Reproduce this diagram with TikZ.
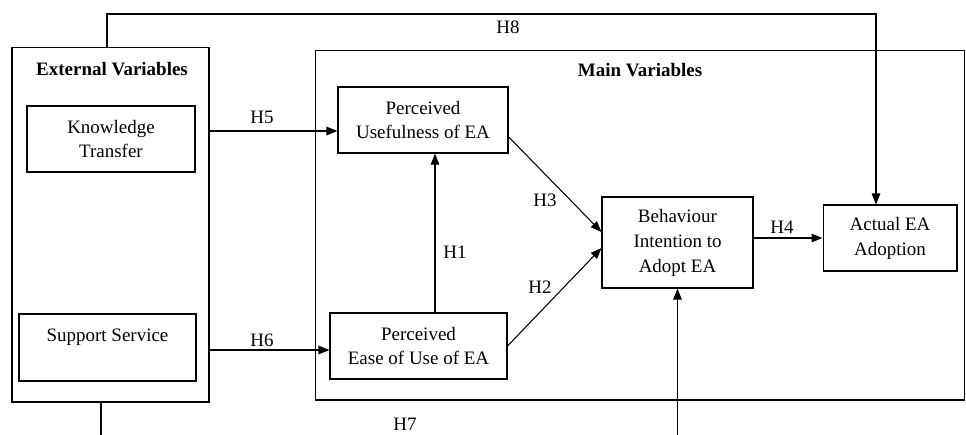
\documentclass[tikz,border=0pt]{standalone}
\usepackage{fontspec}
\setmainfont{Liberation Serif}
\usetikzlibrary{arrows.meta,calc}

\tikzset{
  varbox/.style={draw, line width=0.6pt, align=center, inner sep=0pt, font=\fontsize{10.8}{14.2}\selectfont},
  head/.style={font=\fontsize{10.8}{13}\selectfont\bfseries, inner sep=1pt},
  hyp/.style={font=\fontsize{10.8}{13}\selectfont, inner sep=1pt},
  arr/.style={line width=0.6pt, -{Triangle[length=0.22cm,width=0.17cm]}},
}

\begin{document}
\begin{tikzpicture}[x=0.02cm, y=-0.02cm]
		%%%%% START %%%%%
		\useasboundingbox (0,0) rectangle (966,434);
		\clip (0,0) rectangle (966,434);
		
		% outer boxes
		\node[varbox, minimum width=3.94cm, minimum height=7.1cm] (ext) at (110.5,224.5) {};
		\node[varbox, minimum width=13cm, minimum height=7cm] (main) at (640,225) {};
		\node[head] (exthead) at (112,69) {External Variables};
		\node[head] (mainhead) at (640,70) {Main Variables};
		
		% variables
		\node[varbox, minimum width=3.36cm, minimum height=1.32cm] (kt) at (111,139) {Knowledge\\Transfer};
		\node[varbox, minimum width=3.54cm, minimum height=1.34cm] (ss) at (107.5,347.5) {Support Service\\\phantom{S}};
		\node[varbox, minimum width=3.4cm, minimum height=1.32cm] (pu) at (423,120) {Perceived\\Usefulness of EA};
		\node[varbox, minimum width=3.54cm, minimum height=1.32cm] (peou) at (418.5,346) {Perceived\\Ease of Use of EA};
		\node[varbox, minimum width=3.02cm, minimum height=1.82cm] (bi) at (677.5,242.5) {Behaviour\\Intention to\\Adopt EA};
		\node[varbox, minimum width=2.68cm, minimum height=1.32cm] (ae) at (890,238) {Actual EA\\Adoption};
		
		% helper points
		\coordinate (h8l) at (107,0);
		\coordinate (h8) at (876,14);
		\coordinate (h5) at (0,131);
		\coordinate (h6) at (0,350);
		\coordinate (h1) at (435,0);
		\coordinate (h7l) at (101,470);
		\coordinate (h7r) at (677.5,470);
		
		% hypotheses
		\draw[arr] (ext.north -| h8l) |- (h8) -- (h8 |- ae.north);
		\draw[arr] (ext.east |- h5) -- (pu.west |- h5);
		\draw[arr] (ext.east |- h6) -- (peou.west |- h6);
		\draw[arr] (peou.north -| h1) -- (pu.south -| h1);
		\draw[arr] ($(pu.south east)!0.25!(pu.north east)$) -- ([yshift=0.21cm]bi.west);
		\draw[arr] (peou.east) -- ([yshift=-0.11cm]bi.west);
		\draw[arr] (bi.east |- ae.west) -- (ae.west);
		\draw[arr] (ext.south -| h7l) -- (h7l) -- (h7r) -- (bi.south);
		
		\node[hyp] (lh1) at (455,252) {H1};
		\node[hyp] (lh2) at (540,287) {H2};
		\node[hyp] (lh3) at (545,200) {H3};
		\node[hyp] (lh4) at (782,227) {H4};
		\node[hyp] (lh5) at (262,117) {H5};
		\node[hyp] (lh6) at (262,340) {H6};
		\node[hyp] (lh7) at (405,424) {H7};
		\node[hyp] (lh8) at (508,27) {H8};
		
		%%%%% END %%%%%
\end{tikzpicture}
\end{document}
